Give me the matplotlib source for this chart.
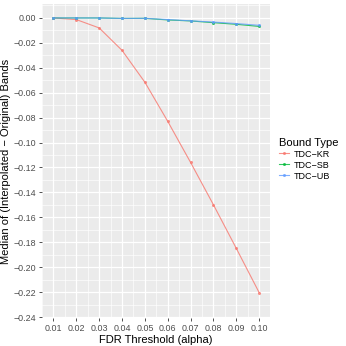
import matplotlib
matplotlib.use('Agg')
import matplotlib.pyplot as plt
from matplotlib.lines import Line2D
import numpy as np

plt.rcParams['font.family'] = ['Liberation Sans', 'DejaVu Sans']

# data
alpha = [0.01, 0.02, 0.03, 0.04, 0.05, 0.06, 0.07, 0.08, 0.09, 0.10]
kr = [0.0, -0.0013, -0.008, -0.026, -0.0516, -0.083, -0.116, -0.150, -0.185, -0.2205]
sb = [0.0, 0.0, 0.0, -0.0004, -0.0003, -0.0016, -0.0024, -0.0038, -0.0051, -0.0068]
ub = [0.0, 0.0, 0.0, -0.0004, -0.0003, -0.0013, -0.0023, -0.0033, -0.0045, -0.0059]
series_names = ['TDC\u2212KR', 'TDC\u2212SB', 'TDC\u2212UB']
series_vals = [kr, sb, ub]
colors = ['#F8766D', '#00BA38', '#619CFF']
y_ticks = [-0.24, -0.22, -0.20, -0.18, -0.16, -0.14, -0.12, -0.10, -0.08,
           -0.06, -0.04, -0.02, 0.00]

fig = plt.figure(figsize=(3.46, 3.46), dpi=100)
ax = fig.add_axes([42 / 346, 28 / 346, (269.5 - 42) / 346, (318 - 4) / 346])
ax.set_facecolor('#EBEBEB')
for s in ax.spines.values():
    s.set_visible(False)

for name, vals, c in zip(series_names, series_vals, colors):
    ax.plot(alpha, vals, color=c, lw=0.8, alpha=0.8, marker='o', ms=2.2,
            markeredgewidth=0, label=name, zorder=3)

ax.set_xlim(0.0055, 0.1045)
ax.set_ylim(-0.2408, 0.0112)
ax.set_xticks(alpha)
ax.set_xticklabels(['%.2f' % v for v in alpha])
ax.set_yticks(y_ticks)
ylabs = []
for v in y_ticks:
    t = '%.2f' % abs(v)
    ylabs.append('\u2212' + t if v < 0 else t)
ax.set_yticklabels(ylabs)
ax.set_xticks(np.round(np.arange(0.005, 0.105, 0.01), 3), minor=True)
ax.set_yticks(np.round(np.arange(-0.23, 0.011, 0.02), 2), minor=True)
ax.grid(True, which='major', color='white', lw=0.9, zorder=0)
ax.grid(True, which='minor', color='white', lw=0.45, zorder=0)
ax.set_axisbelow(True)
ax.tick_params(which='major', length=2.5, width=0.6, color='#333333',
               labelsize=6.4, labelcolor='#4D4D4D', pad=1.5)
ax.tick_params(which='minor', length=0)

ax.set_xlabel('FDR Threshold (alpha)', fontsize=8, color='black', labelpad=1.5)
ax.set_ylabel('Median of (Interpolated \u2212 Original) Bands', fontsize=8,
              color='black', labelpad=2)

handles = [Line2D([], [], color=c, lw=0.8, alpha=0.8, marker='o', ms=2.2,
                  markeredgewidth=0) for c in colors]
leg = fig.legend(handles, series_names, title='Bound Type', loc='upper left',
                 bbox_to_anchor=(275 / 346, 1 - 134 / 346), frameon=False,
                 fontsize=6.5, title_fontsize=8, handlelength=1.2,
                 handletextpad=0.5, labelspacing=0.22, borderaxespad=0)
leg._legend_box.align = 'left'

fig.savefig('out.png', dpi=100)
